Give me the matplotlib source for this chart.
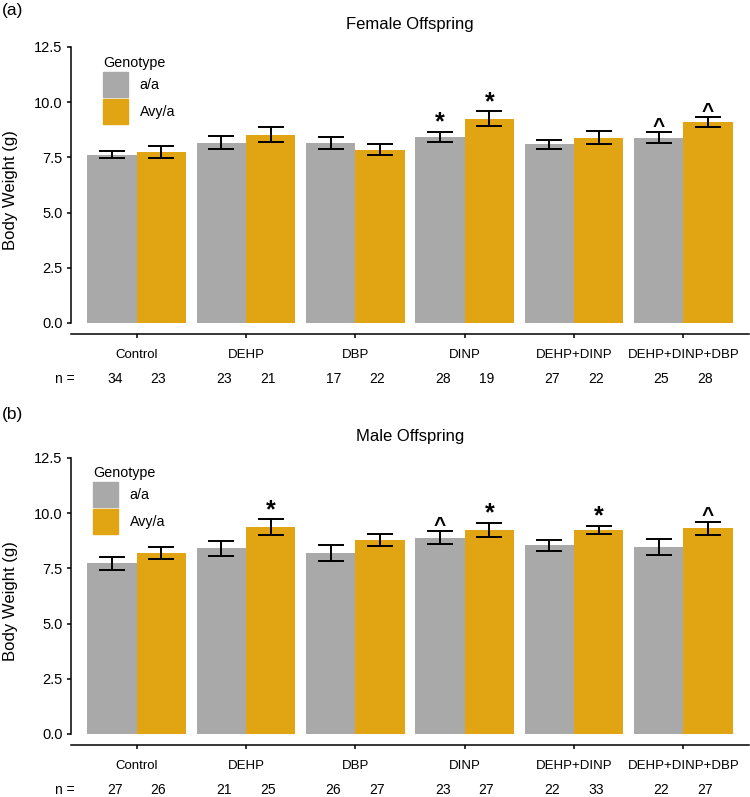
import numpy as np
import matplotlib
matplotlib.use('Agg')
import matplotlib.pyplot as plt
from matplotlib.patches import Patch

plt.rcParams['font.family'] = ['Liberation Sans', 'DejaVu Sans']

# Data (means and SE of body weight, g)
groups = ['Control', 'DEHP', 'DBP', 'DINP', 'DEHP+DINP', 'DEHP+DINP+DBP']
genotypes = ['a/a', 'Avy/a']

female_aa_mean = [7.63, 8.17, 8.17, 8.42, 8.09, 8.39]
female_aa_se = [0.17, 0.30, 0.27, 0.24, 0.21, 0.26]
female_avy_mean = [7.74, 8.53, 7.85, 9.26, 8.39, 9.10]
female_avy_se = [0.27, 0.34, 0.26, 0.33, 0.29, 0.21]
female_aa_n = [34, 23, 17, 28, 27, 25]
female_avy_n = [23, 21, 22, 19, 22, 28]
female_aa_sig = ['', '', '', '*', '', '^']
female_avy_sig = ['', '', '', '*', '', '^']

male_aa_mean = [7.73, 8.41, 8.18, 8.89, 8.55, 8.48]
male_aa_se = [0.29, 0.33, 0.36, 0.30, 0.25, 0.36]
male_avy_mean = [8.21, 9.36, 8.79, 9.24, 9.24, 9.32]
male_avy_se = [0.27, 0.36, 0.26, 0.32, 0.20, 0.30]
male_aa_n = [27, 21, 26, 23, 22, 22]
male_avy_n = [26, 25, 27, 27, 33, 27]
male_aa_sig = ['', '', '', '^', '', '']
male_avy_sig = ['', '*', '', '*', '*', '^']

yticks = [0.0, 2.5, 5.0, 7.5, 10.0, 12.5]

GRAY = '#A9A9A9'
ORANGE = '#E1A514'
W, H = 750, 797


def fx(x):
    return x / W


def fy(y):
    return 1 - y / H


fig = plt.figure(figsize=(7.5, 7.97), dpi=100)


def panel(top_px, bottom_px, title, tag, tag_y, title_y, leg_xy,
          aa_mean, aa_se, avy_mean, avy_se, aa_n, avy_n, aa_sig, avy_sig):
    ax = fig.add_axes([fx(71), fy(bottom_px), fx(749) - fx(71), fy(top_px) - fy(bottom_px)])
    x = np.arange(len(groups))
    bw = 0.45
    ax.bar(x - bw / 2, aa_mean, bw, color=GRAY, zorder=1)
    ax.bar(x + bw / 2, avy_mean, bw, color=ORANGE, zorder=1)
    for off, m, s in [(-bw / 2, aa_mean, aa_se), (bw / 2, avy_mean, avy_se)]:
        ax.errorbar(x + off, m, yerr=s, fmt='none', ecolor='black',
                    elinewidth=1.4, capsize=9.4, capthick=1.4, zorder=3)
    # significance marks
    for off, m, s, sig in [(-bw / 2, aa_mean, aa_se, aa_sig), (bw / 2, avy_mean, avy_se, avy_sig)]:
        for i in range(len(groups)):
            if sig[i] == '*':
                ax.text(x[i] + off, m[i] + s[i] + 0.1, '*', ha='center', va='baseline',
                        fontsize=18, fontweight='bold')
            elif sig[i] == '^':
                ax.text(x[i] + off, m[i] + s[i] + 0.02, '^', ha='center', va='baseline',
                        fontsize=15, fontweight='bold')

    ax.set_xlim(-0.6, len(groups) - 0.4)
    ax.set_ylim(-0.5, 12.5)
    ax.set_yticks(yticks)
    ax.set_yticklabels(['%.1f' % v for v in yticks], fontsize=10.5)
    ax.set_xticks(x)
    ax.set_xticklabels(groups, fontsize=9.5)
    ax.tick_params(axis='x', length=3, width=1.1, pad=8)
    ax.tick_params(axis='y', length=3, width=1.1, pad=3)
    for side in ['top', 'right']:
        ax.spines[side].set_visible(False)
    for side in ['left', 'bottom']:
        ax.spines[side].set_linewidth(1.1)
    ax.spines['left'].set_bounds(0, 12.5)
    ax.set_ylabel('Body Weight (g)', fontsize=12, va='center')
    ax.yaxis.set_label_coords((11 - 71) / 678, 0.5)

    # sample sizes
    trans = ax.get_xaxis_transform()
    n_y = 1 - (45 + bottom_px - top_px) / (bottom_px - top_px)
    ax.text(-0.66, n_y, 'n =', ha='center', va='center', fontsize=10,
            transform=trans, clip_on=False)
    for i in range(len(groups)):
        ax.text(x[i] - 0.2, n_y, str(aa_n[i]), ha='center', va='center',
                fontsize=10, transform=trans, clip_on=False)
        ax.text(x[i] + 0.2, n_y, str(avy_n[i]), ha='center', va='center',
                fontsize=10, transform=trans, clip_on=False)

    fig.text(fx(410), fy(title_y), title, ha='center', va='center', fontsize=12)
    fig.text(fx(2), fy(tag_y), tag, ha='left', va='center', fontsize=12.5)

    handles = [Patch(color=GRAY), Patch(color=ORANGE)]
    ax.legend(handles, genotypes, title='Genotype', loc='upper left',
              bbox_to_anchor=(fx(leg_xy[0]), fy(leg_xy[1])),
              bbox_transform=fig.transFigure, frameon=False,
              fontsize=10.3, title_fontsize=10.3, borderpad=0,
              handlelength=1.75, handleheight=2.3, labelspacing=0.15,
              handletextpad=0.8, alignment='left')
    return ax


panel(47, 334, 'Female Offspring', '(a)', 10, 25, (96, 49),
      female_aa_mean, female_aa_se, female_avy_mean, female_avy_se,
      female_aa_n, female_avy_n, female_aa_sig, female_avy_sig)
panel(458, 745, 'Male Offspring', '(b)', 415, 437, (86, 459),
      male_aa_mean, male_aa_se, male_avy_mean, male_avy_se,
      male_aa_n, male_avy_n, male_aa_sig, male_avy_sig)

fig.savefig('out.png', dpi=100)
